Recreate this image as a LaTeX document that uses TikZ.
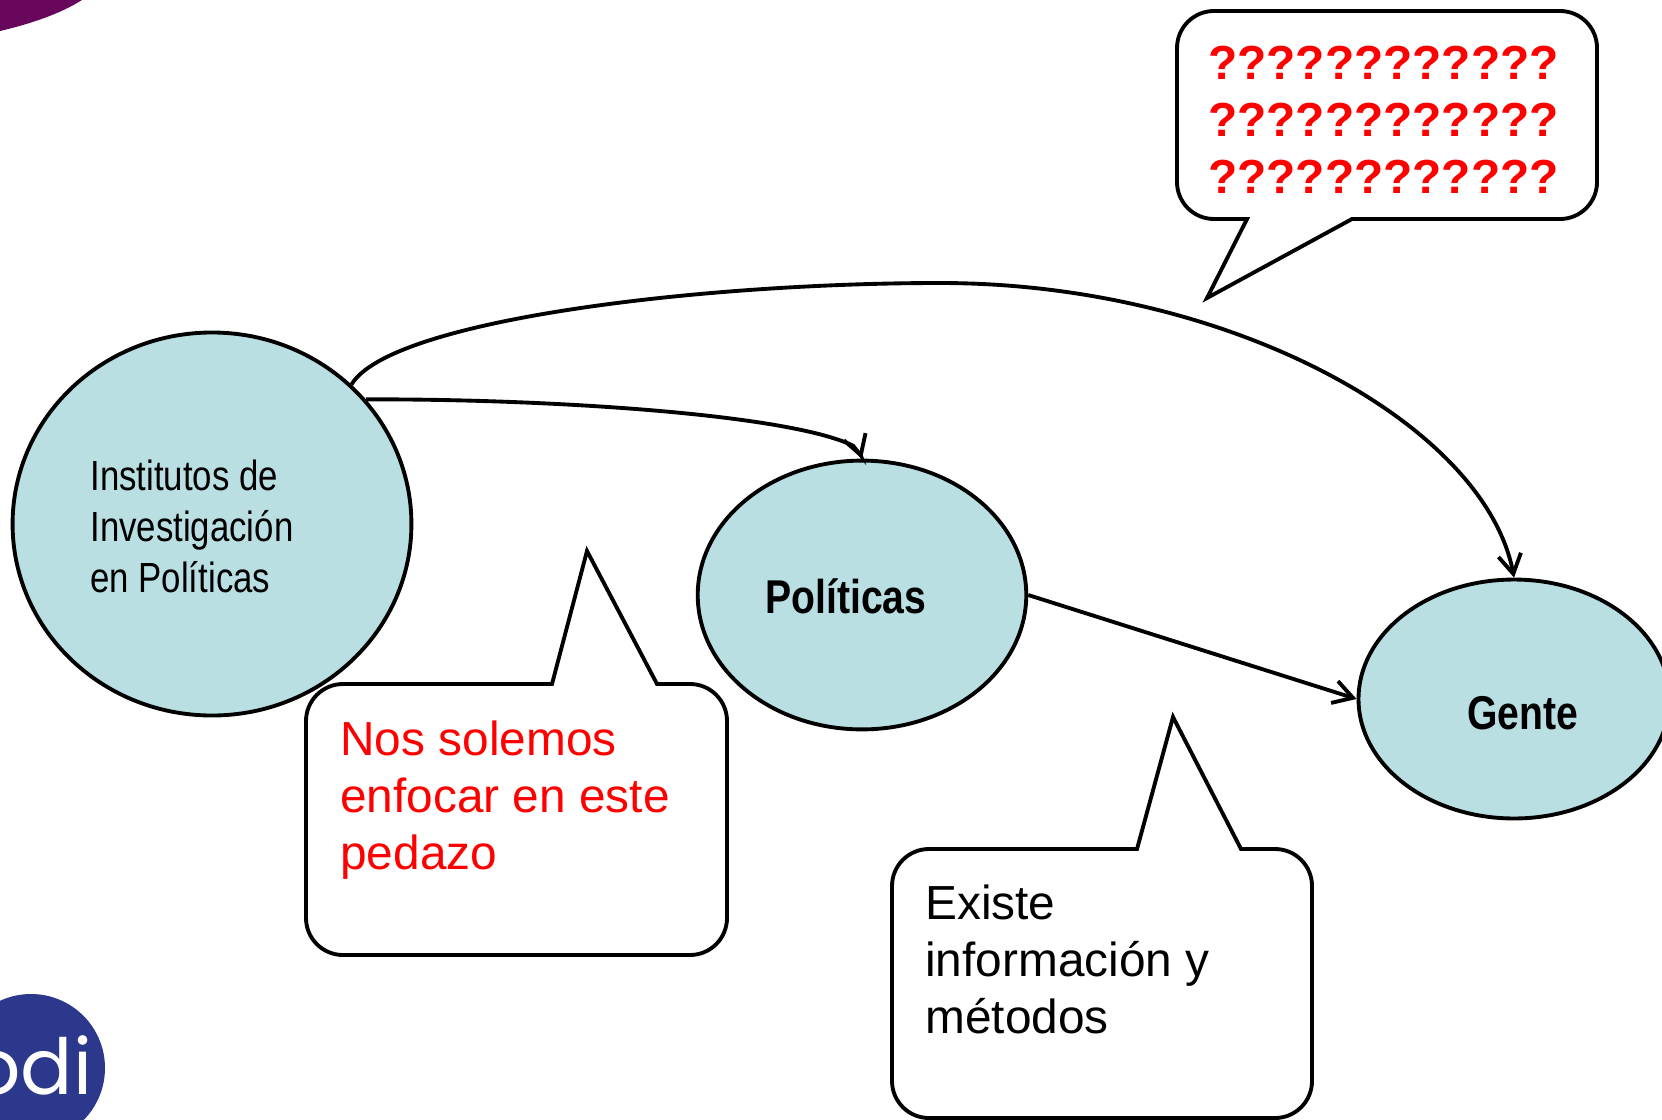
\documentclass[tikz,border=0pt]{standalone}
\usepackage{fontspec}
\usetikzlibrary{arrows.meta,shapes.geometric,calc}
\setmainfont{Liberation Sans}
\newfontfamily\narrowfont[FakeStretch=0.825]{Liberation Sans}
\newfontfamily\logofont{Poppins}
\definecolor{nodefill}{RGB}{185,223,227}
\definecolor{odiblue}{RGB}{43,56,140}
\definecolor{plum}{RGB}{104,6,92}
\newcommand{\firstline}{\rule{0pt}{24pt}}
\tikzset{
  blob/.style={ellipse,draw=black,line width=2.2pt,fill=nodefill,inner sep=0pt},
  link/.style={draw=black,line width=2.2pt,-{Straight Barb[length=11pt,width=13pt,line width=2.2pt]}},
  bubble/.style={draw=black,line width=2.2pt,fill=white,line join=miter},
  txt/.style={anchor=north west,inner sep=0pt,align=left,font=\fontsize{27.2}{32.5}\selectfont},
  narrowtxt/.style={anchor=north west,inner sep=0pt,align=left,font=\narrowfont\fontsize{24}{28.9}\selectfont},
  boldtxt/.style={anchor=north west,inner sep=0pt,align=left,font=\narrowfont\bfseries\fontsize{27}{32.5}\selectfont}
}
\begin{document}
\begin{tikzpicture}[x=0.02cm,y=-0.02cm]
\useasboundingbox (0,0) rectangle (1662,1119);
% corner logos
\fill[plum] (0,0) -- (82,0) .. controls (60,14) and (30,24) .. (0,31) -- cycle;
\fill[odiblue] (31,1068) circle (74);
\node[anchor=base west,inner sep=0pt,text=white,font=\logofont\fontsize{44}{44}\selectfont] (logo) at (-29,1094) {odi};
% ellipses
\node[blob,minimum width=227pt,minimum height=218pt] (inst) at (212,524) {};
\node[blob,minimum width=187pt,minimum height=153pt] (poli) at (862,595) {};
\node[blob,minimum width=177pt,minimum height=136pt] (gente) at (1514,699) {};
% connectors
\draw[link] (inst.39) .. controls (560,399) and (790,415) .. ($(poli.north)+(-9,-13)$) -- ($(poli.north)+(-1,-3)$) -- (poli.north);
\draw[link] (inst.45) .. controls (390,320) and (700,283) .. (940,283) .. controls (1230,283) and (1485,425) .. (gente.north);
\draw[link] (poli.east) -- (gente.west);
% callouts
\draw[bubble] (1214,11) -- (1560,11) arc[start angle=-90,end angle=0,radius=37]
  -- (1597,182) arc[start angle=0,end angle=90,radius=37]
  -- (1352,219) -- (1207,298) -- (1247,219) -- (1214,219) arc[start angle=90,end angle=180,radius=37]
  -- (1177,48) arc[start angle=180,end angle=270,radius=37] -- cycle;
\draw[bubble] (343,684) -- (552,684) -- (587,551) -- (657,684) -- (690,684) arc[start angle=-90,end angle=0,radius=37]
  -- (727,918) arc[start angle=0,end angle=90,radius=37]
  -- (343,955) arc[start angle=90,end angle=180,radius=37]
  -- (306,721) arc[start angle=180,end angle=270,radius=37] -- cycle;
\draw[bubble] (929,849) -- (1137,849) -- (1173,717) -- (1241,849) -- (1275,849) arc[start angle=-90,end angle=0,radius=37]
  -- (1312,1081) arc[start angle=0,end angle=90,radius=37]
  -- (929,1118) arc[start angle=90,end angle=180,radius=37]
  -- (892,886) arc[start angle=180,end angle=270,radius=37] -- cycle;
% texts
\node[txt,text=red,font=\bfseries\fontsize{27.2}{32.5}\selectfont] (qq) at (1208,37) {\firstline????????????\\????????????\\????????????};
\node[txt,text=red] (nos) at (340,713) {\firstline Nos solemos\\enfocar en este\\pedazo};
\node[txt] (exi) at (925,877) {\firstline Existe\\información y\\métodos};
\node[narrowtxt] (insttxt) at (90,448) {\firstline Institutos de\\Investigación\\en Políticas};
\node[boldtxt] (politxt) at (765,571) {\firstline Políticas};
\node[boldtxt] (gentetxt) at (1467,687) {\firstline Gente};
\end{tikzpicture}
\end{document}
